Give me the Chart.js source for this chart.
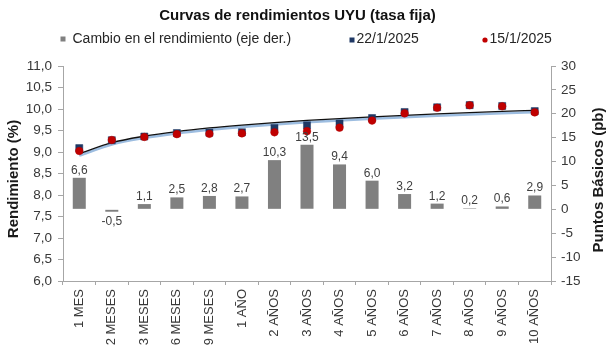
<!DOCTYPE html>
<html>
<head>
<meta charset="utf-8">
<style>
html,body{margin:0;padding:0;background:#ffffff;}
#wrap{width:610px;height:357px;position:relative;}
</style>
<script src="https://cdn.jsdelivr.net/npm/chart.js@4.4.1/dist/chart.umd.min.js"></script>
</head>
<body>
<div id="wrap"><canvas id="c" width="610" height="357"></canvas></div>
<script>
// ---- data ----
const categories = ['1 MES','2 MESES','3 MESES','6 MESES','9 MESES','1 AÑO','2 AÑOS','3 AÑOS','4 AÑOS','5 AÑOS','6 AÑOS','7 AÑOS','8 AÑOS','9 AÑOS','10 AÑOS'];
const yield22 = [9.09, 9.275, 9.36, 9.44, 9.45, 9.46, 9.56, 9.62, 9.66, 9.79, 9.93, 10.04, 10.09, 10.07, 9.95];
const yield15 = [9.024, 9.28, 9.349, 9.415, 9.422, 9.433, 9.457, 9.485, 9.566, 9.73, 9.898, 10.028, 10.088, 10.064, 9.921];
const changeBp = [6.6, -0.5, 1.1, 2.5, 2.8, 2.7, 10.3, 13.5, 9.4, 6.0, 3.2, 1.2, 0.2, 0.6, 2.9];
const yieldTicks = [6.0, 6.5, 7.0, 7.5, 8.0, 8.5, 9.0, 9.5, 10.0, 10.5, 11.0];
const bpTicks = [-15, -10, -5, 0, 5, 10, 15, 20, 25, 30];

const titleText = 'Curvas de rendimientos UYU (tasa fija)';
const legendLabels = ['Cambio en el rendimiento (eje der.)', '22/1/2025', '15/1/2025'];
const leftAxisTitle = 'Rendimiento (%)';
const rightAxisTitle = 'Puntos Básicos (pb)';

// Excel-style logarithmic trendline (least squares on ln(category index))
function logTrend(values) {
  const n = values.length;
  const xs = values.map((_, i) => Math.log(i + 1));
  const mx = xs.reduce((a, b) => a + b, 0) / n;
  const my = values.reduce((a, b) => a + b, 0) / n;
  let sxy = 0, sxx = 0;
  for (let i = 0; i < n; i++) { sxy += (xs[i] - mx) * (values[i] - my); sxx += (xs[i] - mx) * (xs[i] - mx); }
  const a = sxy / sxx, b = my - a * mx;
  return xs.map(x => b + a * x);
}

const FONT = "'Liberation Sans', Arial, sans-serif";
Chart.defaults.font.family = FONT;
const fmt1 = v => Number(v).toFixed(1).replace('.', ',');

const COL_BAR = '#808080';
const COL_22 = '#1F3864';
const COL_15 = '#C00000';
const AXIS = '#A6A6A6';
const TXT = '#383838';

const headerPlugin = {
  id: 'header',
  afterDraw(chart) {
    const ctx = chart.ctx;
    ctx.save();
    ctx.fillStyle = '#111111';
    ctx.font = 'bold 15px ' + FONT;
    ctx.textAlign = 'center';
    ctx.textBaseline = 'middle';
    ctx.fillText(titleText, 297.5, 15.5);

    ctx.font = '14px ' + FONT;
    ctx.textAlign = 'left';
    // item 1 : bars
    ctx.fillStyle = COL_BAR;
    ctx.fillRect(60.5, 36.5, 5, 5);
    ctx.fillStyle = '#262626';
    ctx.fillText(legendLabels[0], 72.5, 39.5);
    // item 2 : 22/1
    ctx.fillStyle = COL_22;
    ctx.fillRect(349.5, 37.5, 5, 5);
    ctx.fillStyle = '#262626';
    ctx.fillText(legendLabels[1], 356.5, 39.5);
    // item 3 : 15/1
    ctx.fillStyle = COL_15;
    ctx.beginPath();
    ctx.arc(485, 40, 2.6, 0, Math.PI * 2);
    ctx.fill();
    ctx.fillStyle = '#262626';
    ctx.fillText(legendLabels[2], 489.5, 39.5);

    // axis titles (both read bottom to top)
    ctx.font = 'bold 15px ' + FONT;
    ctx.fillStyle = '#1a1a1a';
    ctx.textAlign = 'center';
    ctx.textBaseline = 'middle';
    ctx.save();
    ctx.translate(13.5, 179);
    ctx.rotate(-Math.PI / 2);
    ctx.fillText(leftAxisTitle, 0, 0);
    ctx.restore();
    ctx.save();
    ctx.translate(599, 180);
    ctx.rotate(-Math.PI / 2);
    ctx.fillText(rightAxisTitle, 0, 0);
    ctx.restore();
    ctx.restore();
  }
};

const barLabelPlugin = {
  id: 'barLabels',
  afterDatasetsDraw(chart) {
    const meta = chart.getDatasetMeta(0);
    const ctx = chart.ctx;
    const fs = 12;
    ctx.save();
    ctx.font = fs + 'px ' + FONT;
    ctx.fillStyle = '#404040';
    ctx.textAlign = 'center';
    ctx.textBaseline = 'alphabetic';
    meta.data.forEach((bar, i) => {
      const v = changeBp[i];
      const txt = fmt1(v);
      if (v >= 0) ctx.fillText(txt, bar.x, bar.y - 4);
      else ctx.fillText(txt, bar.x, bar.y + 5 + fs * 0.716);
    });
    ctx.restore();
  }
};

new Chart(document.getElementById('c'), {
  type: 'bar',
  data: {
    labels: categories,
    datasets: [
      {
        type: 'bar', label: legendLabels[0], data: changeBp, yAxisID: 'y1',
        backgroundColor: COL_BAR, barPercentage: 0.4, categoryPercentage: 1.0, order: 5
      },
      {
        type: 'line', label: 'Tendencia 22/1/2025', data: logTrend(yield22), yAxisID: 'y',
        borderColor: '#111111', borderWidth: 1.3, pointRadius: 0, cubicInterpolationMode: 'monotone', fill: false, order: 3
      },
      {
        type: 'line', label: 'Tendencia 15/1/2025', data: logTrend(yield15), yAxisID: 'y',
        borderColor: '#9DBDE0', borderWidth: 2.6, pointRadius: 0, cubicInterpolationMode: 'monotone', fill: false, order: 4
      },
      {
        type: 'line', label: legendLabels[1], data: yield22, yAxisID: 'y', showLine: false,
        pointStyle: 'rect', pointRadius: 5, pointBackgroundColor: COL_22, pointBorderColor: COL_22, pointBorderWidth: 0.5, order: 1
      },
      {
        type: 'line', label: legendLabels[2], data: yield15, yAxisID: 'y', showLine: false,
        pointStyle: 'circle', pointRadius: 3.8, pointBackgroundColor: COL_15, pointBorderColor: '#B00000', pointBorderWidth: 0.5, order: 0
      }
    ]
  },
  options: {
    responsive: false,
    animation: false,
    devicePixelRatio: 1,
    layout: { padding: { top: 66, left: 0, right: 0, bottom: 0 } },
    plugins: { legend: { display: false }, title: { display: false }, tooltip: { enabled: false } },
    scales: {
      x: {
        type: 'category', offset: true,
        grid: { offset: true, drawOnChartArea: false, drawTicks: true, tickLength: 4, color: AXIS },
        border: { display: true, color: AXIS },
        ticks: { minRotation: 90, maxRotation: 90, autoSkip: false, padding: 4, font: { size: 13 }, color: TXT },
        afterFit(s) { s.height = 76; }
      },
      y: {
        position: 'left',
        min: yieldTicks[0], max: yieldTicks[yieldTicks.length - 1],
        afterBuildTicks(s) { s.ticks = yieldTicks.map(v => ({ value: v })); },
        ticks: { callback: v => fmt1(v), padding: 6, font: { size: 13.5 }, color: TXT },
        grid: { drawOnChartArea: false, drawTicks: true, tickLength: 5, color: AXIS },
        border: { display: true, color: AXIS },
        afterFit(s) { s.width = 63; }
      },
      y1: {
        position: 'right',
        min: bpTicks[0], max: bpTicks[bpTicks.length - 1],
        afterBuildTicks(s) { s.ticks = bpTicks.map(v => ({ value: v })); },
        ticks: { callback: v => String(v), padding: 5, font: { size: 13.5 }, color: TXT },
        grid: { drawOnChartArea: false, drawTicks: true, tickLength: 5, color: AXIS },
        border: { display: true, color: AXIS },
        afterFit(s) { s.width = 59; }
      }
    }
  },
  plugins: [headerPlugin, barLabelPlugin]
});
</script>
</body>
</html>
